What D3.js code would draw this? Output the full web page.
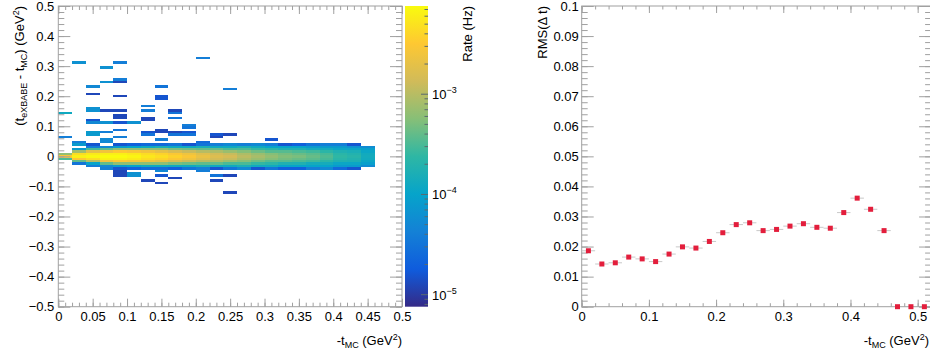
<!DOCTYPE html>
<html><head><meta charset="utf-8">
<script src="https://cdn.jsdelivr.net/npm/d3@7"></script>
<style>
body{margin:0;background:#fff}
svg{display:block}
text{font-family:"Liberation Sans",Arial,Helvetica,sans-serif;fill:#000}
</style>
</head><body>
<svg id="c" width="930" height="356"></svg>
<script>
// ---------------- DATA ----------------
// 2D histogram: -t_MC bins (width 0.02) x Δt bins (width 0.008), value = log10(rate in Hz)
const tMcBinWidth = 0.02;
const dtBinWidth = 0.008;
const coreRowOffsets = [-5, -4, -3, -2, -1, 0, 1, 2, 3, 4, 5];
const coreLogRate = [
  [null, null, null, null, -3.5, -2.55, -3.2, null, null, null, null],
  [null, null, -4.5, -3.4, -2.5, -2.2, -2.35, -3.1, -4.1, null, null],
  [null, null, -4.0, -3.0, -2.35, -2.15, -2.25, -2.7, -3.5, -4.4, null],
  [null, -4.3, -3.4, -2.6, -2.2, -2.12, -2.2, -2.6, -3.4, -4.3, null],
  [-4.8, -4.1, -3.2, -2.5, -2.2, -2.12, -2.2, -2.5, -3.2, -4.1, -4.8],
  [-4.7, -4.0, -3.2, -2.55, -2.25, -2.17, -2.25, -2.55, -3.2, -4.0, -4.7],
  [-4.6, -3.9, -3.2, -2.6, -2.35, -2.27, -2.35, -2.6, -3.2, -3.9, -4.6],
  [-4.6, -3.9, -3.2, -2.7, -2.42, -2.33, -2.42, -2.7, -3.2, -3.8, -4.6],
  [-4.7, -3.9, -3.3, -2.8, -2.52, -2.43, -2.52, -2.8, -3.3, -3.9, -4.5],
  [-4.5, -3.9, -3.35, -2.9, -2.62, -2.53, -2.62, -2.9, -3.35, -3.9, -4.8],
  [-4.4, -3.8, -3.4, -3.0, -2.75, -2.67, -2.75, -3.0, -3.4, -3.8, -4.5],
  [-4.8, -3.9, -3.4, -3.05, -2.85, -2.78, -2.85, -3.05, -3.4, -3.9, -4.4],
  [-4.5, -3.9, -3.5, -3.15, -2.92, -2.84, -2.92, -3.15, -3.5, -3.9, -4.3],
  [-4.3, -3.8, -3.5, -3.25, -3.05, -2.98, -3.05, -3.25, -3.5, -3.8, -4.4],
  [-4.8, -3.9, -3.6, -3.35, -3.15, -3.08, -3.15, -3.35, -3.6, -3.9, -4.3],
  [-4.5, -3.9, -3.65, -3.45, -3.25, -3.18, -3.25, -3.45, -3.65, -4.0, -4.4],
  [-4.7, -4.0, -3.75, -3.45, -3.32, -3.27, -3.32, -3.45, -3.75, -4.0, -4.8],
  [-4.7, -4.0, -3.75, -3.5, -3.37, -3.3, -3.37, -3.5, -3.75, -4.0, -4.7],
  [-4.4, -4.0, -3.85, -3.55, -3.43, -3.38, -3.43, -3.55, -3.85, -4.1, -4.5],
  [-4.3, -4.0, -3.85, -3.65, -3.52, -3.48, -3.52, -3.65, -3.85, -4.1, -4.4],
  [-4.6, -4.1, -3.95, -3.75, -3.66, -3.62, -3.66, -3.75, -3.95, -4.1, -4.4],
  [-4.8, -4.1, -3.95, -3.78, -3.72, -3.68, -3.72, -3.8, -3.95, -4.2, -4.8],
  [null, -4.25, -4.05, -3.95, -3.88, -3.86, -3.88, -3.95, -4.05, -4.25, null]
];
// isolated cells: [tMc bin index, Δt (GeV^2), log10(rate)]
const strayCells = [
  [0, 0.144, -3.9], [0, 0.064, -4.4],
  [1, 0.310, -4.2], [1, 0.050, -4.4], [1, 0.042, -4.1],
  [2, 0.233, -4.3], [2, 0.208, -4.9], [2, 0.159, -4.2], [2, 0.151, -4.2], [2, 0.120, -4.8],
  [2, 0.110, -4.3], [2, 0.080, -4.1], [2, 0.072, -4.1], [2, 0.040, -4.8], [2, -0.032, -4.4],
  [3, 0.299, -4.2], [3, 0.244, -4.2], [3, 0.154, -4.9], [3, 0.110, -4.2], [3, 0.078, -4.4],
  [3, 0.056, -4.3], [3, 0.048, -4.3], [3, -0.044, -4.4],
  [4, 0.309, -4.4], [4, 0.257, -4.4], [4, 0.249, -4.9], [4, 0.198, -4.9], [4, 0.154, -4.9],
  [4, 0.133, -4.9], [4, 0.126, -4.9], [4, 0.111, -4.8], [4, 0.089, -4.5], [4, 0.061, -4.4],
  [4, -0.048, -4.9], [4, -0.056, -4.9], [4, -0.064, -4.9],
  [5, 0.109, -4.2], [5, -0.055, -4.2], [5, -0.063, -4.2],
  [6, 0.164, -4.4], [6, 0.150, -4.4], [6, 0.125, -4.9], [6, 0.118, -4.9], [6, 0.083, -4.8],
  [6, 0.072, -4.5], [6, -0.081, -4.9],
  [7, 0.228, -4.5], [7, 0.198, -4.8], [7, 0.192, -4.8], [7, 0.089, -4.9], [7, 0.083, -4.9],
  [7, 0.058, -4.4], [7, -0.048, -4.3], [7, -0.061, -4.8], [7, -0.086, -4.9],
  [8, 0.154, -4.9], [8, 0.140, -4.5], [8, 0.131, -4.5], [8, 0.078, -4.9], [8, 0.072, -4.5],
  [8, -0.076, -4.9],
  [9, 0.106, -4.4], [9, 0.098, -4.5], [9, 0.080, -4.8], [9, 0.072, -4.5],
  [10, 0.329, -4.4], [10, 0.050, -4.6], [10, -0.049, -4.4],
  [11, 0.074, -4.8], [11, 0.066, -4.9], [11, -0.066, -4.5], [11, -0.081, -4.9],
  [12, 0.224, -4.4], [12, 0.068, -4.9], [12, -0.061, -4.9], [12, -0.121, -4.9],
  [15, 0.058, -4.8]
];
// right panel: RMS(Δt) vs -t_MC
const rmsTmc = [0.01,0.03,0.05,0.07,0.09,0.11,0.13,0.15,0.17,0.19,0.21,0.23,0.25,0.27,0.29,0.31,0.33,0.35,0.37,0.39,0.41,0.43,0.45,0.47,0.49,0.51];
const rmsDt  = [0.0186,0.0142,0.0146,0.0165,0.0159,0.0150,0.0175,0.0199,0.0195,0.0217,0.0246,0.0273,0.0279,0.0253,0.0257,0.0268,0.0276,0.0264,0.0261,0.0313,0.0361,0.0324,0.0253,0,0,0];
// tick values
const leftXTicks = [0,0.05,0.1,0.15,0.2,0.25,0.3,0.35,0.4,0.45,0.5];
const leftYTicks = [-0.5,-0.4,-0.3,-0.2,-0.1,0,0.1,0.2,0.3,0.4,0.5];
const rightXTicks = [0,0.1,0.2,0.3,0.4,0.5];
const rightYTicks = [0,0.01,0.02,0.03,0.04,0.05,0.06,0.07,0.08,0.09,0.1];
const rateTicks = [1e-5,1e-4,1e-3];
const rateExp = ["−5","−4","−3"];
const zLogRange = [-5.12, -2.12];

// ---------------- DRAW ----------------
const svg = d3.select("#c");
const FS = 13;
const lineCol = "#a0a0a0";

const birdStops = [0,0.125,0.25,0.375,0.5,0.625,0.75,0.875,1];
const birdCols = [[0.2082,0.1664,0.5293],[0.0592,0.3599,0.8684],[0.0780,0.5041,0.8385],[0.0232,0.6419,0.7914],
  [0.1802,0.7178,0.6425],[0.5301,0.7492,0.4662],[0.8186,0.7328,0.3499],[0.9956,0.7862,0.1968],[0.9764,0.9832,0.0539]]
  .map(c => d3.rgb(c[0]*255,c[1]*255,c[2]*255).formatHex());
const bird = d3.scaleLinear().domain(birdStops).range(birdCols).interpolate(d3.interpolateRgb).clamp(true);
const zFrac = d3.scaleLinear().domain(zLogRange).range([0,1]).clamp(true);
const colorOf = v => bird(zFrac(v));

const xL = d3.scaleLinear([0,0.5],[58.3,402]);
const yL = d3.scaleLinear([-0.5,0.5],[306.7,6]);
const xR = d3.scaleLinear([0,0.52],[581.7,931.1]);
const yR = d3.scaleLinear([0,0.1],[306.7,6]);
const zS = d3.scaleLog([Math.pow(10,zLogRange[0]),Math.pow(10,zLogRange[1])],[306.7,6]);

// heatmap cells
const cells = [];
coreLogRate.forEach((arr, c) => arr.forEach((v, i) => { if (v !== null) cells.push({c, r: coreRowOffsets[i], v}); }));
strayCells.forEach(([c, dt, v]) => cells.push({c, r: Math.round(dt / dtBinWidth), v}));
svg.append("g").selectAll("rect").data(cells).join("rect")
  .attr("x", d => xL(d.c * tMcBinWidth))
  .attr("width", d => xL((d.c + 1) * tMcBinWidth) - xL(d.c * tMcBinWidth))
  .attr("y", d => yL((d.r + 0.5) * dtBinWidth))
  .attr("height", d => yL((d.r - 0.5) * dtBinWidth) - yL((d.r + 0.5) * dtBinWidth))
  .attr("fill", d => colorOf(d.v))
  .attr("shape-rendering", "crispEdges");

const fmt = d => d3.format("~g")(d);

function frame(xs, ys, xMaj, xMinStep, yMaj, yMinStep, xLen, yLen, yPad) {
  const [x0, x1] = xs.range(), [y0, y1] = ys.range();
  const [dx0, dx1] = xs.domain(), [dy0, dy1] = ys.domain();
  const xMin = d3.range(Math.round((dx1 - dx0) / xMinStep) + 1).map(i => dx0 + i * xMinStep);
  const yMin = d3.range(Math.round((dy1 - dy0) / yMinStep) + 1).map(i => dy0 + i * yMinStep);
  const style = g => { g.attr("color", lineCol).attr("font-size", FS).attr("font-family", null);
    g.select(".domain").remove(); g.selectAll("text").attr("fill", "#000"); };
  svg.append("g").attr("transform", `translate(0,${y0})`).call(d3.axisBottom(xs).tickValues(xMin).tickSize(-xLen/2).tickFormat("")).call(style);
  svg.append("g").attr("transform", `translate(0,${y0})`).call(d3.axisBottom(xs).tickValues(xMaj).tickSize(-xLen).tickPadding(5).tickFormat(fmt)).call(style);
  svg.append("g").attr("transform", `translate(0,${y1})`).call(d3.axisTop(xs).tickValues(xMin).tickSize(-xLen/2).tickFormat("")).call(style);
  svg.append("g").attr("transform", `translate(0,${y1})`).call(d3.axisTop(xs).tickValues(xMaj).tickSize(-xLen).tickFormat("")).call(style);
  svg.append("g").attr("transform", `translate(${x0},0)`).call(d3.axisLeft(ys).tickValues(yMin).tickSize(-yLen/2).tickFormat("")).call(style);
  svg.append("g").attr("transform", `translate(${x0},0)`).call(d3.axisLeft(ys).tickValues(yMaj).tickSize(-yLen).tickPadding(yPad).tickFormat(fmt)).call(style);
  svg.append("g").attr("transform", `translate(${x1},0)`).call(d3.axisRight(ys).tickValues(yMin).tickSize(-yLen/2).tickFormat("")).call(style);
  svg.append("g").attr("transform", `translate(${x1},0)`).call(d3.axisRight(ys).tickValues(yMaj).tickSize(-yLen).tickFormat("")).call(style);
  svg.append("rect").attr("x", x0).attr("y", y1).attr("width", x1 - x0).attr("height", y0 - y1)
    .attr("fill", "none").attr("stroke", lineCol);
}
frame(xL, yL, leftXTicks, 0.01, leftYTicks, 0.02, 8, 12, 4);

// palette
const defs = svg.append("defs");
const grad = defs.append("linearGradient").attr("id", "bird").attr("x1", 0).attr("y1", 1).attr("x2", 0).attr("y2", 0);
birdStops.forEach((s, i) => grad.append("stop").attr("offset", s).attr("stop-color", birdCols[i]));
svg.append("rect").attr("x", 405).attr("y", 6).attr("width", 23).attr("height", 300.7).attr("fill", "url(#bird)");
const minorRate = [];
for (let e = -6; e <= -2; e++) for (let m = 1; m <= 9; m++) {
  const v = m * Math.pow(10, e);
  if (Math.log10(v) >= zLogRange[0] && Math.log10(v) <= zLogRange[1]) minorRate.push({v, major: m === 1});
}
svg.append("g").selectAll("line").data(minorRate).join("line")
  .attr("x1", d => 428 - (d.major ? 7 : 3.5)).attr("x2", 428)
  .attr("y1", d => zS(d.v)).attr("y2", d => zS(d.v))
  .attr("stroke", "#5a6a70").attr("stroke-width", 1);
const pl = svg.append("g").selectAll("text").data(rateTicks).join("text")
  .attr("x", 432).attr("y", d => zS(d) + 5).attr("font-size", FS);
pl.append("tspan").text("10");
pl.append("tspan").attr("dy", -6).attr("font-size", 9).text((d, i) => rateExp[i]);

// right panel
frame(xR, yR, rightXTicks, 0.02, rightYTicks, 0.002, 7, 12, 3);
const pts = rmsTmc.map((t, i) => ({t, v: rmsDt[i]}));
svg.append("g").selectAll("line").data(pts.filter(d => d.v > 0)).join("line")
  .attr("x1", d => xR(d.t - tMcBinWidth/2)).attr("x2", d => xR(d.t + tMcBinWidth/2))
  .attr("y1", d => yR(d.v)).attr("y2", d => yR(d.v))
  .attr("stroke", "#c8c8c8").attr("stroke-width", 1);
svg.append("g").selectAll("rect").data(pts).join("rect")
  .attr("x", d => xR(d.t) - 2.5).attr("y", d => yR(d.v) - 2.5)
  .attr("width", 5).attr("height", 5).attr("fill", "#e31e3c");

// titles
function xTitle(xEnd) {
  const t = svg.append("text").attr("x", xEnd).attr("y", 345).attr("text-anchor", "end").attr("font-size", FS);
  t.append("tspan").text("-t");
  t.append("tspan").attr("dy", 3).attr("font-size", 9).text("MC");
  t.append("tspan").attr("dy", -3).text(" (GeV");
  t.append("tspan").attr("dy", -5).attr("font-size", 9).text("2");
  t.append("tspan").attr("dy", 5).text(")");
}
xTitle(402);
xTitle(929);

const yt = svg.append("text").attr("transform", "translate(24,6) rotate(-90)").attr("text-anchor", "end").attr("font-size", FS);
yt.append("tspan").text("(t");
yt.append("tspan").attr("dy", 3).attr("font-size", 9).text("eXBABE");
yt.append("tspan").attr("dy", -3).text(" - t");
yt.append("tspan").attr("dy", 3).attr("font-size", 9).text("MC");
yt.append("tspan").attr("dy", -3).text(") (GeV");
yt.append("tspan").attr("dy", -5).attr("font-size", 9).text("2");
yt.append("tspan").attr("dy", 5).text(")");

svg.append("text").attr("transform", "translate(546.5,6) rotate(-90)").attr("text-anchor", "end")
  .attr("font-size", FS).text("RMS(Δ t)");
svg.append("text").attr("transform", "translate(472,6) rotate(-90)").attr("text-anchor", "end")
  .attr("font-size", FS).text("Rate (Hz)");
</script>
</body></html>
